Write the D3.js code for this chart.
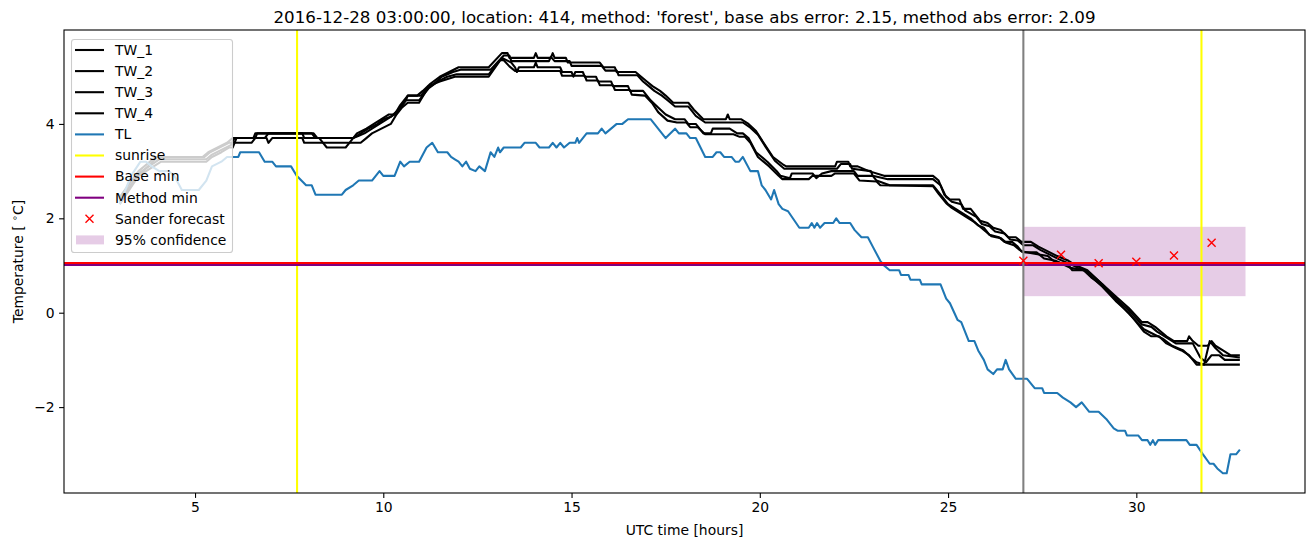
<!DOCTYPE html>
<html>
<head>
<meta charset="utf-8">
<script src="https://cdn.jsdelivr.net/npm/d3@7"></script>
<style>
  body { margin: 0; background: #fff; }
  text { font-family: "DejaVu Sans", sans-serif; }
</style>
</head>
<body>
<svg id="chart"></svg>
<script>
// data (hours UTC, temperature degC)
const tw1 = [[3.0,2.4],[3.5,2.9],[4.0,3.3],[5.2,3.3],[5.35,3.4],[5.6,3.5],[5.85,3.6],[6.0,3.7],[6.55,3.7],[6.6,3.8],[8.15,3.8],[8.25,3.7],[9.2,3.7],[9.3,3.8],[9.55,3.9],[9.75,4.0],[9.95,4.1],[10.15,4.2],[10.3,4.2],[10.45,4.4],[10.65,4.6],[10.9,4.6],[11.05,4.7],[11.25,4.85],[11.5,5.0],[11.75,5.1],[12.0,5.2],[12.8,5.2],[13.15,5.5],[13.3,5.5],[13.35,5.4],[14.0,5.4],[14.05,5.5],[14.1,5.4],[14.45,5.4],[14.5,5.5],[14.55,5.4],[14.85,5.4],[14.9,5.3],[15.75,5.3],[15.85,5.2],[16.15,5.2],[16.2,5.1],[16.7,5.1],[16.85,5.0],[17.0,4.9],[17.15,4.8],[17.35,4.7],[17.5,4.6],[17.7,4.45],[18.1,4.45],[18.25,4.3],[18.5,4.1],[19.1,4.1],[19.15,4.2],[19.2,4.1],[19.5,4.1],[19.7,4.0],[19.9,3.85],[20.1,3.6],[20.35,3.3],[20.6,3.15],[20.7,3.1],[22.0,3.1],[22.05,3.2],[22.35,3.2],[22.4,3.1],[22.6,3.1],[22.9,3.0],[23.3,2.9],[24.6,2.9],[24.75,2.8],[24.9,2.5],[25.05,2.4],[25.3,2.4],[25.4,2.2],[25.6,2.2],[25.7,2.1],[25.85,1.95],[26.05,1.9],[26.2,1.8],[26.4,1.75],[26.6,1.6],[26.8,1.6],[26.95,1.5],[27.2,1.5],[27.4,1.4],[27.65,1.3],[27.9,1.2],[28.2,1.1],[28.4,1.0],[28.7,0.9],[29.1,0.6],[29.45,0.35],[29.8,0.1],[30.15,-0.2],[30.3,-0.2],[30.5,-0.3],[30.8,-0.5],[31.0,-0.6],[31.35,-0.6],[31.4,-0.5],[31.5,-0.6],[31.65,-0.7],[31.9,-0.7],[32.0,-0.6],[32.1,-0.7],[32.3,-0.8],[32.5,-0.9],[32.75,-0.9]];
const tw2 = [[3.0,2.45],[3.5,3.0],[3.95,3.3],[5.25,3.3],[5.4,3.4],[5.65,3.5],[5.9,3.6],[6.05,3.6],[6.1,3.7],[6.85,3.7],[6.95,3.8],[7.85,3.8],[7.9,3.7],[8.3,3.7],[8.4,3.6],[9.1,3.6],[9.2,3.7],[9.4,3.8],[9.6,3.9],[9.85,4.0],[10.0,4.1],[10.2,4.15],[10.4,4.3],[10.6,4.5],[10.65,4.6],[11.0,4.6],[11.15,4.75],[11.35,4.85],[11.55,5.0],[11.85,5.1],[12.05,5.15],[12.85,5.15],[13.2,5.45],[13.35,5.45],[13.4,5.33],[14.4,5.33],[14.45,5.42],[14.55,5.33],[14.95,5.33],[15.0,5.23],[15.8,5.23],[15.9,5.13],[16.2,5.13],[16.25,5.03],[16.75,5.03],[16.9,4.9],[17.05,4.8],[17.2,4.7],[17.4,4.6],[17.55,4.5],[17.75,4.37],[18.1,4.37],[18.3,4.17],[18.55,4.03],[19.55,4.03],[19.75,3.92],[19.95,3.77],[20.15,3.52],[20.4,3.22],[20.65,3.05],[22.05,3.05],[22.15,3.15],[22.4,3.15],[22.45,3.05],[22.95,3.0],[23.0,2.9],[23.4,2.83],[24.6,2.83],[24.8,2.7],[24.95,2.45],[25.1,2.35],[25.35,2.3],[25.45,2.17],[25.75,2.03],[25.9,1.88],[26.1,1.83],[26.25,1.72],[26.5,1.68],[26.65,1.55],[26.85,1.53],[27.0,1.43],[27.25,1.43],[27.45,1.33],[27.7,1.23],[27.95,1.13],[28.25,1.03],[28.45,0.95],[28.75,0.85],[29.1,0.6],[29.45,0.3],[29.8,0.05],[30.15,-0.25],[30.4,-0.3],[30.55,-0.4],[30.85,-0.55],[31.05,-0.65],[31.5,-0.65],[31.7,-0.95],[31.85,-1.05],[32.0,-0.9],[32.2,-0.9],[32.35,-1.0],[32.75,-1.0]];
const tw3 = [[3.0,2.3],[3.5,2.9],[4.1,3.2],[5.3,3.2],[5.45,3.3],[5.7,3.4],[5.9,3.5],[6.0,3.5],[6.05,3.6],[6.5,3.6],[6.6,3.7],[6.9,3.7],[6.95,3.6],[7.05,3.7],[7.85,3.7],[7.9,3.6],[8.4,3.6],[8.5,3.5],[9.0,3.5],[9.1,3.6],[9.4,3.6],[9.55,3.7],[9.7,3.8],[9.95,3.9],[10.2,4.0],[10.35,4.2],[10.5,4.35],[10.65,4.45],[10.95,4.45],[11.1,4.65],[11.2,4.8],[11.5,4.9],[11.9,5.0],[12.8,5.0],[13.15,5.4],[13.4,5.3],[13.5,5.2],[13.55,5.1],[13.6,5.2],[14.0,5.2],[14.05,5.3],[14.1,5.2],[14.7,5.2],[14.75,5.1],[15.0,5.1],[15.05,5.0],[15.1,5.1],[15.3,5.1],[15.35,5.0],[15.65,5.0],[15.7,4.9],[16.05,4.9],[16.1,4.8],[16.5,4.8],[16.55,4.7],[16.9,4.7],[17.1,4.5],[17.3,4.35],[17.5,4.2],[17.75,4.1],[18.0,4.1],[18.1,4.0],[18.3,4.0],[18.5,3.8],[18.7,3.8],[18.75,3.9],[19.2,3.9],[19.4,3.8],[19.55,3.8],[19.7,3.7],[19.9,3.4],[20.2,3.2],[20.45,3.0],[20.55,2.9],[20.8,2.85],[20.85,2.95],[21.4,2.95],[21.5,2.85],[21.65,2.95],[21.9,3.0],[22.5,3.0],[22.6,2.9],[23.0,2.9],[23.1,2.8],[23.45,2.7],[24.6,2.7],[24.7,2.6],[24.9,2.4],[25.0,2.3],[25.2,2.2],[25.4,2.1],[25.6,2.0],[25.8,1.85],[25.95,1.8],[26.1,1.65],[26.35,1.6],[26.5,1.5],[26.7,1.5],[26.85,1.4],[26.95,1.3],[27.3,1.25],[27.65,1.2],[27.8,1.1],[28.2,1.0],[28.3,0.9],[28.65,0.9],[28.75,0.8],[29.1,0.55],[29.45,0.25],[29.8,0.0],[30.2,-0.4],[30.4,-0.5],[30.6,-0.5],[30.8,-0.65],[31.05,-0.75],[31.2,-0.8],[31.4,-0.9],[31.6,-1.1],[31.85,-1.1],[32.55,-1.1],[32.75,-1.1]];
const tw4 = [[3.0,2.35],[3.5,2.95],[4.05,3.25],[5.3,3.25],[5.45,3.35],[5.7,3.45],[5.95,3.55],[6.05,3.7],[6.6,3.7],[6.65,3.8],[8.1,3.8],[8.2,3.7],[9.2,3.7],[9.35,3.75],[9.5,3.8],[9.7,3.9],[9.9,4.0],[10.1,4.1],[10.3,4.2],[10.5,4.4],[10.6,4.5],[10.95,4.5],[11.05,4.6],[11.2,4.75],[11.45,4.9],[11.7,5.0],[11.95,5.05],[12.8,5.05],[13.1,5.35],[13.2,5.35],[13.35,5.22],[13.5,5.12],[14.7,5.12],[14.75,5.02],[15.35,5.02],[15.4,4.92],[15.7,4.92],[15.75,4.82],[16.1,4.82],[16.15,4.72],[16.55,4.72],[16.6,4.62],[16.95,4.6],[17.15,4.43],[17.3,4.25],[17.55,4.07],[17.8,4.03],[18.05,4.03],[18.15,3.93],[18.35,3.93],[18.55,3.78],[19.3,3.78],[19.45,3.73],[19.6,3.73],[19.75,3.6],[19.95,3.3],[20.25,3.1],[20.5,2.9],[20.6,2.83],[21.3,2.83],[21.4,2.9],[21.9,2.9],[22.0,2.95],[22.5,2.95],[22.65,2.8],[23.1,2.78],[23.2,2.7],[24.6,2.68],[24.75,2.52],[24.95,2.32],[25.1,2.22],[25.3,2.12],[25.5,2.02],[25.7,1.92],[25.85,1.82],[26.0,1.72],[26.15,1.62],[26.4,1.58],[26.55,1.48],[26.75,1.43],[26.9,1.33],[27.0,1.28],[27.35,1.28],[27.55,1.15],[27.85,1.1],[28.25,0.95],[28.6,0.9],[28.8,0.75],[29.1,0.58],[29.45,0.28],[29.8,-0.02],[30.2,-0.35],[30.45,-0.45],[30.7,-0.55],[30.95,-0.7],[31.25,-0.8],[31.45,-0.95],[31.6,-1.05],[31.8,-1.1],[31.95,-0.6],[32.1,-0.75],[32.3,-0.9],[32.75,-0.95]];
const tl = [[3.0,2.3],[3.3,2.9],[3.55,3.2],[3.7,3.2],[3.85,3.1],[4.05,3.0],[4.3,3.0],[4.45,2.9],[4.65,2.6],[5.1,2.6],[5.3,2.8],[5.45,3.1],[5.7,3.2],[5.85,3.3],[6.15,3.3],[6.2,3.4],[6.7,3.4],[6.85,3.2],[7.05,3.2],[7.15,3.1],[7.55,3.1],[7.7,2.9],[7.95,2.7],[8.1,2.7],[8.2,2.5],[8.9,2.5],[9.0,2.6],[9.2,2.7],[9.35,2.8],[9.7,2.8],[9.9,3.0],[10.0,2.9],[10.3,2.9],[10.45,3.2],[10.55,3.1],[10.7,3.2],[10.95,3.2],[11.15,3.5],[11.3,3.6],[11.45,3.4],[11.7,3.4],[11.8,3.3],[11.9,3.25],[12.0,3.2],[12.1,3.1],[12.2,3.2],[12.3,3.05],[12.45,3.0],[12.55,3.1],[12.7,3.0],[12.85,3.4],[12.95,3.3],[13.05,3.5],[13.1,3.4],[13.2,3.5],[13.65,3.5],[13.75,3.6],[14.05,3.6],[14.15,3.5],[14.4,3.5],[14.5,3.6],[14.6,3.5],[14.7,3.6],[14.8,3.5],[14.95,3.6],[15.1,3.6],[15.15,3.7],[15.2,3.6],[15.4,3.8],[15.7,3.8],[15.8,3.9],[15.9,3.8],[16.05,3.9],[16.2,4.0],[16.35,4.0],[16.5,4.1],[17.1,4.1],[17.5,3.7],[17.75,3.9],[17.85,3.8],[18.05,3.8],[18.15,3.7],[18.3,3.7],[18.55,3.3],[18.75,3.3],[18.85,3.4],[18.95,3.4],[19.05,3.3],[19.25,3.3],[19.35,3.2],[19.45,3.2],[19.55,3.3],[19.75,3.0],[19.95,3.0],[20.05,2.7],[20.15,2.6],[20.3,2.4],[20.38,2.6],[20.5,2.3],[20.6,2.2],[20.75,2.15],[21.05,1.8],[21.3,1.8],[21.38,1.9],[21.45,1.8],[21.52,1.9],[21.6,1.8],[21.72,1.9],[21.95,1.9],[22.03,2.0],[22.12,1.9],[22.4,1.9],[22.52,1.75],[22.7,1.6],[22.87,1.6],[23.0,1.4],[23.2,1.1],[23.3,1.0],[23.45,0.9],[23.7,0.9],[23.75,0.8],[23.95,0.8],[24.0,0.7],[24.25,0.7],[24.3,0.6],[24.8,0.6],[24.95,0.3],[25.05,0.2],[25.25,-0.15],[25.35,-0.2],[25.55,-0.6],[25.7,-0.6],[25.8,-0.8],[25.95,-1.0],[26.05,-1.2],[26.2,-1.3],[26.3,-1.2],[26.45,-1.2],[26.53,-1.0],[26.62,-1.2],[26.8,-1.4],[27.1,-1.4],[27.3,-1.6],[27.5,-1.6],[27.55,-1.7],[27.9,-1.7],[28.05,-1.8],[28.25,-1.9],[28.4,-2.0],[28.55,-1.9],[28.75,-2.1],[29.0,-2.1],[29.2,-2.25],[29.4,-2.45],[29.5,-2.5],[29.7,-2.5],[29.75,-2.6],[30.05,-2.6],[30.15,-2.7],[30.3,-2.7],[30.37,-2.8],[30.44,-2.7],[30.5,-2.8],[30.58,-2.7],[31.33,-2.7],[31.42,-2.8],[31.6,-2.8],[31.77,-3.0],[31.95,-3.2],[32.05,-3.2],[32.15,-3.3],[32.3,-3.4],[32.4,-3.4],[32.5,-3.0],[32.65,-3.0],[32.75,-2.9]];

const forecastHours = [27, 28, 29, 30, 31, 32];
const forecastTemps = [1.10, 1.23, 1.05, 1.08, 1.21, 1.48];
const confidence = [0.35, 1.82];     // lower, upper
const confidenceHours = [27, 32.9];
const sunrise = [7.71, 31.73];
const forecastStart = 27;
const baseMin = 1.05;
const methodMin = 1.01;

const xTicks = [5, 10, 15, 20, 25, 30];
const yTicks = [-2, 0, 2, 4];

const title = "2016-12-28 03:00:00, location: 414, method: 'forest', base abs error: 2.15, method abs error: 2.09";

// layout
const w = 1313, h = 547;
const mLeft = 64, mRight = 1305, mTop = 30, mBottom = 493;

const svg = d3.select('#chart').attr('width', w).attr('height', h);

const x = d3.scaleLinear().domain([1.52, 34.48]).range([mLeft, mRight]);
const y = d3.scaleLinear().domain([-3.82, 5.99]).range([mBottom, mTop]);

svg.append('defs').append('clipPath').attr('id', 'clip')
  .append('rect').attr('x', mLeft).attr('y', mTop).attr('width', mRight - mLeft).attr('height', mBottom - mTop);

const plot = svg.append('g').attr('clip-path', 'url(#clip)');

// confidence band
plot.append('rect')
  .attr('x', x(confidenceHours[0]))
  .attr('width', x(confidenceHours[1]) - x(confidenceHours[0]))
  .attr('y', y(confidence[1]))
  .attr('height', y(confidence[0]) - y(confidence[1]))
  .attr('fill', 'purple').attr('fill-opacity', 0.2);

const line = d3.line().x(d => x(d[0])).y(d => y(d[1]));

[tw1, tw2, tw3, tw4].forEach(s => {
  plot.append('path').datum(s).attr('d', line)
    .attr('fill', 'none').attr('stroke', 'black').attr('stroke-width', 2.08)
    .attr('stroke-linejoin', 'round');
});

plot.append('path').datum(tl).attr('d', line)
  .attr('fill', 'none').attr('stroke', '#1f77b4').attr('stroke-width', 2.08)
  .attr('stroke-linejoin', 'round');

// sunrise lines
plot.selectAll('.sunrise').data(sunrise).enter().append('line')
  .attr('x1', d => x(d)).attr('x2', d => x(d))
  .attr('y1', mTop).attr('y2', mBottom)
  .attr('stroke', 'yellow').attr('stroke-width', 2.08);

// base / method minimum
plot.append('line').attr('x1', mLeft).attr('x2', mRight)
  .attr('y1', y(baseMin)).attr('y2', y(baseMin))
  .attr('stroke', 'red').attr('stroke-width', 2.08);
plot.append('line').attr('x1', mLeft).attr('x2', mRight)
  .attr('y1', y(methodMin)).attr('y2', y(methodMin))
  .attr('stroke', 'purple').attr('stroke-width', 2.08);

// forecast start
plot.append('line').attr('x1', x(forecastStart)).attr('x2', x(forecastStart))
  .attr('y1', mTop).attr('y2', mBottom)
  .attr('stroke', 'grey').attr('stroke-width', 2.08);

// forecast markers
const cross = (g, cx, cy, r) => {
  g.append('path')
    .attr('d', `M${cx - r},${cy - r}L${cx + r},${cy + r}M${cx - r},${cy + r}L${cx + r},${cy - r}`)
    .attr('stroke', 'red').attr('stroke-width', 1.4).attr('fill', 'none');
};
forecastHours.forEach((t, i) => cross(plot, x(t), y(forecastTemps[i]), 4));

// axes
const xAxis = d3.axisBottom(x).tickValues(xTicks).tickSize(4.9).tickPadding(4.5);
const yAxis = d3.axisLeft(y).tickValues(yTicks).tickSize(4.9).tickPadding(4.5)
  .tickFormat(d => d < 0 ? '\u2212' + Math.abs(d) : d);

const gx = svg.append('g').attr('transform', `translate(0,${mBottom})`).call(xAxis);
const gy = svg.append('g').attr('transform', `translate(${mLeft},0)`).call(yAxis);
[gx, gy].forEach(g => {
  g.select('.domain').remove();
  g.selectAll('.tick line').attr('stroke', 'black').attr('stroke-width', 1.1);
  g.selectAll('.tick text').attr('fill', 'black').style('font-size', '13.9px')
    .style('font-family', '"DejaVu Sans", sans-serif');
});

svg.append('rect').attr('x', mLeft).attr('y', mTop)
  .attr('width', mRight - mLeft).attr('height', mBottom - mTop)
  .attr('fill', 'none').attr('stroke', 'black').attr('stroke-width', 1.1);

// labels
svg.append('text').attr('x', (mLeft + mRight) / 2).attr('y', 535)
  .attr('text-anchor', 'middle').style('font-size', '13.9px').text('UTC time [hours]');

const ylab = svg.append('text')
  .attr('transform', `translate(23,${(mTop + mBottom) / 2}) rotate(-90)`)
  .attr('text-anchor', 'middle').style('font-size', '13.9px');
ylab.append('tspan').text('Temperature [ ');
ylab.append('tspan').attr('dy', -5).style('font-size', '9.7px').text('\u2218');
ylab.append('tspan').attr('dy', 5).text('C]');

svg.append('text').attr('x', (mLeft + mRight) / 2).attr('y', 23)
  .attr('text-anchor', 'middle').style('font-size', '16.7px').text(title);

// legend
const legendItems = [
  { label: 'TW_1', kind: 'line', color: 'black' },
  { label: 'TW_2', kind: 'line', color: 'black' },
  { label: 'TW_3', kind: 'line', color: 'black' },
  { label: 'TW_4', kind: 'line', color: 'black' },
  { label: 'TL', kind: 'line', color: '#1f77b4' },
  { label: 'sunrise', kind: 'line', color: 'yellow' },
  { label: 'Base min', kind: 'line', color: 'red' },
  { label: 'Method min', kind: 'line', color: 'purple' },
  { label: 'Sander forecast', kind: 'cross', color: 'red' },
  { label: '95% confidence', kind: 'patch', color: 'purple' }
];

const legend = svg.append('g');
legend.append('rect').attr('x', 71.5).attr('y', 39.5).attr('width', 161).attr('height', 213)
  .attr('rx', 2.8).attr('fill', 'white').attr('fill-opacity', 0.8)
  .attr('stroke', '#cccccc').attr('stroke-width', 1.1);

legendItems.forEach((d, i) => {
  const cy = 50 + i * 21.1;
  if (d.kind === 'line') {
    legend.append('line').attr('x1', 75).attr('x2', 104).attr('y1', cy).attr('y2', cy)
      .attr('stroke', d.color).attr('stroke-width', 2.08);
  } else if (d.kind === 'cross') {
    cross(legend, 89.5, cy, 4);
  } else {
    legend.append('rect').attr('x', 76).attr('y', cy - 4.5).attr('width', 28).attr('height', 9)
      .attr('fill', d.color).attr('fill-opacity', 0.2);
  }
  legend.append('text').attr('x', 115).attr('y', cy).attr('dy', '0.35em')
    .style('font-size', '13.9px').text(d.label);
});
</script>
</body>
</html>
